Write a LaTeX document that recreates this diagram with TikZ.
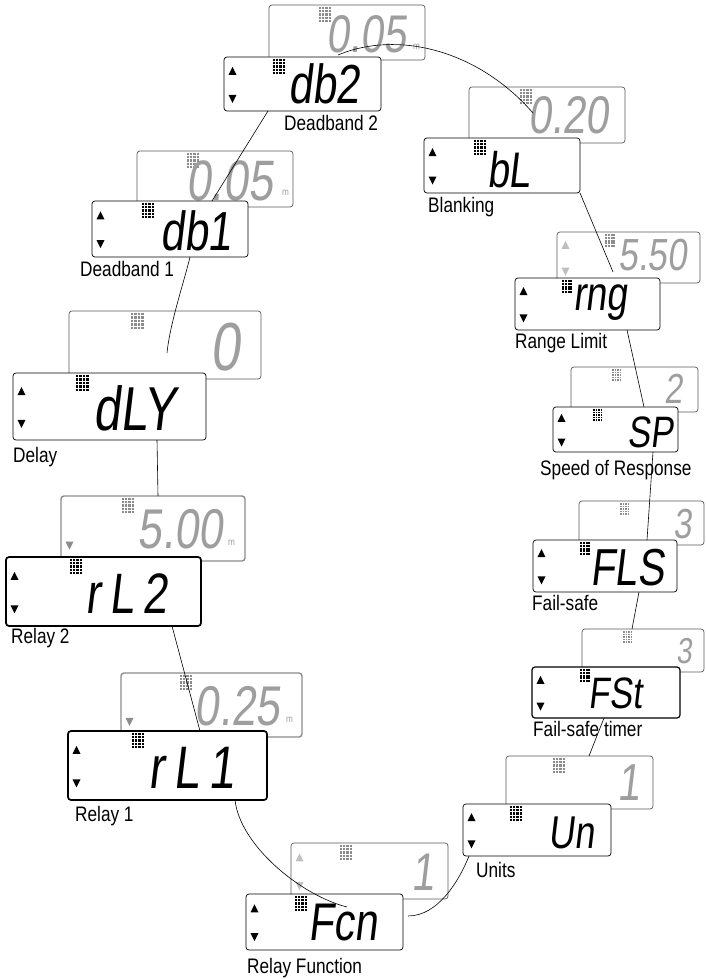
\documentclass[tikz,border=0pt]{standalone}
\usepackage{fontspec}
\setmainfont{Liberation Sans}
\newfontfamily\segfont[FakeSlant=0.12,FakeStretch=0.78]{Liberation Sans}
\newfontfamily\segwide[FakeSlant=0.12,FakeStretch=0.78,LetterSpace=16]{Liberation Sans}
\newfontfamily\tagfont[FakeStretch=0.82]{Liberation Sans}
\usetikzlibrary{calc}
\definecolor{lcdgrey}{gray}{0.62}
\definecolor{rimgrey}{gray}{0.35}
\definecolor{palegrey}{gray}{0.75}
\definecolor{relaygrey}{gray}{0.55}

\tikzset{
  rearlcd/.style 2 args={draw=rimgrey, line width=0.7pt, rounded corners=3pt, fill=white,
    inner sep=0pt, outer sep=0pt, minimum width=#1, minimum height=#2},
  facelcd/.style 2 args={draw=black, line width=0.7pt, rounded corners=3pt, fill=white,
    inner sep=0pt, outer sep=0pt, minimum width=#1, minimum height=#2},
  lcdcode/.style={font={\fontsize{#1}{#1}\segfont}, inner sep=0pt, anchor=base west},
  lcdwide/.style={font={\fontsize{#1}{#1}\segwide}, inner sep=0pt, anchor=base west},
  lcdvalue/.style={font={\fontsize{#1}{#1}\segfont}, text=lcdgrey, inner sep=0pt, anchor=base east},
  unitm/.style={font={\fontsize{10}{10}\tagfont}, text=lcdgrey, inner sep=0pt, anchor=base west},
  menulabel/.style={font={\fontsize{21}{21}\tagfont}, inner sep=0pt, anchor=base west},
  linkline/.style={line width=0.6pt},
}

% dot matrix: node, x offset, pitch, colour
\newcommand{\dotgrid}[4]{%
  \foreach \i in {0,...,3}
    \foreach \j in {0,...,4}
      \fill[#4] (#1.north west) ++({#2+#3*\i},{2+#3*\j}) rectangle ++({0.68*#3},{0.68*#3});
}
% arrow marks: node, box height, colour
\newcommand{\uptri}[3]{%
  \fill[#3] (#1.north west) ++(4.5,{0.33*#2}) -- ++(8,0) -- ++(-4,-8) -- cycle;}
\newcommand{\downtri}[3]{%
  \fill[#3] (#1.south west) ++(4.5,{-0.30*#2}) -- ++(8,0) -- ++(-4,8) -- cycle;}

\begin{document}
\begin{tikzpicture}[x=1pt,y=-1pt]
\useasboundingbox (0,0) rectangle (706,979);

% Deadband 2
\node[rearlcd={156pt}{55pt}] (db2b) at (347,32.5) {};
\dotgrid{db2b}{50}{3.2}{relaygrey}
\node[lcdvalue=53] (db2v) at (407,53) {0.05};
\node[unitm] (db2m) at (413,50) {m};
\node[facelcd={157pt}{54pt}] (db2f) at (302.5,84) {};
\uptri{db2f}{54}{black} \downtri{db2f}{54}{black}
\dotgrid{db2f}{49}{3.2}{black}
\node[lcdcode=55] (db2c) at (288,103) {db2};
\node[menulabel] (db2l) at (284,130) {Deadband 2};

% Blanking
\node[rearlcd={156pt}{56pt}] (blb) at (547,115) {};
\dotgrid{blb}{51}{3.2}{relaygrey}
\node[lcdvalue=53] (blv) at (609,133) {0.20};
\node[facelcd={156pt}{55pt}] (blf) at (502,165.5) {};
\uptri{blf}{55}{black} \downtri{blf}{55}{black}
\dotgrid{blf}{50}{3.2}{black}
\node[lcdcode=50] (blc) at (487,187) {bL};
\node[menulabel] (bll) at (428,212) {Blanking};

% Deadband 1
\node[rearlcd={156pt}{56pt}] (db1b) at (215,179) {};
\dotgrid{db1b}{50}{3.2}{relaygrey}
\node[lcdvalue=57] (db1v) at (273,200) {0.05};
\node[unitm] (db1m) at (282,195) {m};
\node[facelcd={156pt}{56pt}] (db1f) at (170,229) {};
\uptri{db1f}{56}{black} \downtri{db1f}{56}{black}
\dotgrid{db1f}{50}{3.2}{black}
\node[lcdcode=55] (db1c) at (160,250) {db1};
\node[menulabel] (db1l) at (80,276) {Deadband 1};

% Range Limit
\node[rearlcd={143pt}{51pt}] (rngb) at (628.5,257.5) {};
\uptri{rngb}{51}{palegrey} \downtri{rngb}{51}{palegrey}
\dotgrid{rngb}{48}{2.8}{relaygrey}
\node[lcdvalue=45] (rngv) at (687,270) {5.50};
\node[facelcd={145pt}{52pt}] (rngf) at (587.5,304) {};
\uptri{rngf}{52}{black} \downtri{rngf}{52}{black}
\dotgrid{rngf}{47}{2.8}{black}
\node[lcdcode=48] (rngc) at (573,310) {rng};
\node[menulabel] (rngl) at (515,348) {Range Limit};

% Speed of Response
\node[rearlcd={127pt}{45pt}] (spb) at (634.5,389.5) {};
\dotgrid{spb}{41}{2.5}{relaygrey}
\node[lcdvalue=42] (spv) at (683,403) {2};
\node[facelcd={125pt}{45pt}] (spf) at (615.5,429.5) {};
\uptri{spf}{45}{black} \downtri{spf}{45}{black}
\dotgrid{spf}{40}{2.5}{black}
\node[lcdcode=44] (spc) at (627,447) {SP};
\node[menulabel] (spl) at (540,475) {Speed of Response};

% Delay
\node[rearlcd={192pt}{68pt}] (dlyb) at (165,345) {};
\dotgrid{dlyb}{62}{3.4}{relaygrey}
\node[lcdvalue=68] (dlyv) at (240,370) {0};
\node[facelcd={193pt}{67pt}] (dlyf) at (109.5,406.5) {};
\uptri{dlyf}{67}{black} \downtri{dlyf}{67}{black}
\dotgrid{dlyf}{63}{3.4}{black}
\node[lcdcode=62] (dlyc) at (93,430) {dLY};
\node[menulabel] (dlyl) at (13,462) {Delay};

% Fail-safe
\node[rearlcd={125pt}{44pt}] (flsb) at (641.5,523) {};
\dotgrid{flsb}{41}{2.5}{relaygrey}
\node[lcdvalue=42] (flsv) at (692,538) {3};
\node[facelcd={144pt}{52pt}] (flsf) at (605,566) {};
\uptri{flsf}{52}{black} \downtri{flsf}{52}{black}
\dotgrid{flsf}{47}{2.8}{black}
\node[lcdcode=52] (flsc) at (590,585) {FLS};
\node[menulabel] (flsl) at (532,610) {Fail-safe};

% Relay 2
\node[rearlcd={184pt}{65pt}, draw=relaygrey, line width=1.4pt] (rl2b) at (153,528.5) {};
\downtri{rl2b}{65}{relaygrey}
\dotgrid{rl2b}{61}{3.2}{relaygrey}
\node[lcdvalue=56] (rl2v) at (223,548) {5.00};
\node[unitm] (rl2m) at (228,545) {m};
\node[facelcd={195pt}{69pt}, line width=1.7pt] (rl2f) at (103.5,591.5) {};
\uptri{rl2f}{69}{black} \downtri{rl2f}{69}{black}
\dotgrid{rl2f}{64}{3.2}{black}
\node[lcdwide=57] (rl2c) at (85,613) {rL2};
\node[menulabel] (rl2l) at (11,643) {Relay 2};

% Fail-safe timer
\node[rearlcd={122pt}{43pt}] (fstb) at (643,650.5) {};
\dotgrid{fstb}{41}{2.5}{relaygrey}
\node[lcdvalue=36] (fstv) at (692,663) {3};
\node[facelcd={148pt}{51pt}, line width=1.2pt] (fstf) at (606,692.5) {};
\uptri{fstf}{51}{black} \downtri{fstf}{51}{black}
\dotgrid{fstf}{48}{2.8}{black}
\node[lcdcode=44] (fstc) at (588,708) {FSt};
\node[menulabel] (fstl) at (533,736) {Fail-safe timer};

% Relay 1
\node[rearlcd={181pt}{64pt}, draw=relaygrey, line width=1.4pt] (rl1b) at (211.5,705) {};
\downtri{rl1b}{64}{relaygrey}
\dotgrid{rl1b}{59}{3.2}{relaygrey}
\node[lcdvalue=56] (rl1v) at (280,725) {0.25};
\node[unitm] (rl1m) at (286,722) {m};
\node[facelcd={199pt}{69pt}, line width=1.7pt] (rl1f) at (167.5,765.5) {};
\uptri{rl1f}{69}{black} \downtri{rl1f}{69}{black}
\dotgrid{rl1f}{64}{3.2}{black}
\node[lcdwide=60] (rl1c) at (148,788) {rL1};
\node[menulabel] (rl1l) at (75,821) {Relay 1};

% Units
\node[rearlcd={147pt}{53pt}] (unb) at (579.5,782.5) {};
\dotgrid{unb}{47}{3.2}{relaygrey}
\node[lcdvalue=52] (unv) at (640,800) {1};
\node[facelcd={148pt}{52pt}] (unf) at (537,830) {};
\uptri{unf}{52}{black} \downtri{unf}{52}{black}
\dotgrid{unf}{47}{3.2}{black}
\node[lcdcode=46] (unc) at (548,848) {Un};
\node[menulabel] (unl) at (476,877) {Units};

% Relay Function
\node[rearlcd={157pt}{56pt}] (fcnb) at (369.5,871) {};
\uptri{fcnb}{56}{palegrey} \downtri{fcnb}{56}{palegrey}
\dotgrid{fcnb}{49}{3.2}{relaygrey}
\node[lcdvalue=53] (fcnv) at (435,890) {1};
\node[facelcd={157pt}{56pt}] (fcnf) at (324.5,922) {};
\uptri{fcnf}{56}{black} \downtri{fcnf}{56}{black}
\dotgrid{fcnf}{49}{3.2}{black}
\node[lcdcode=53] (fcnc) at (308,940) {Fcn};
\node[menulabel] (fcnl) at (247,973) {Relay Function};

% menu cycle
\draw[linkline] ([xshift=5pt,yshift=6pt]fcnf.east) .. controls +(30,0) and +(-10,25) .. ([xshift=6pt]unf.south west);
\draw[linkline] ([xshift=83pt]unb.north west) -- ([xshift=72pt]fstf.south west);
\draw[linkline] ([xshift=50pt]fstb.north west) -- ([xshift=106pt]flsf.south west);
\draw[linkline] ([xshift=114pt]flsf.north west) -- ([xshift=100pt]spf.south west);
\draw[linkline] ([xshift=91pt]spf.north west) -- ([xshift=112pt]rngf.south west);
\draw[linkline] (blf.south east) -- ([xshift=98pt,yshift=6pt]rngf.north west);
\draw[linkline] ([xshift=109pt,yshift=25pt]blf.north west) .. controls +(-55,-63) and +(60,-25) .. ([xshift=114pt,yshift=2pt]db2f.north west);
\draw[linkline] ([xshift=44pt]db2f.south west) -- ([xshift=120pt]db1f.north west);
\draw[linkline] ([xshift=98pt]db1f.south west) .. controls +(-6,25) and +(3,-30) .. ([xshift=154pt,yshift=20pt]dlyf.north west);
\draw[linkline] ([xshift=144pt]dlyf.south west) -- ([xshift=97pt]rl2b.north west);
\draw[linkline] ([xshift=166pt]rl2f.south west) -- ([xshift=132pt]rl1f.north west);
\draw[linkline] ([xshift=167pt]rl1f.south west) .. controls +(5,45) and +(-47,-12) .. ([xshift=101pt,yshift=-13pt]fcnf.north west);
\end{tikzpicture}
\end{document}
